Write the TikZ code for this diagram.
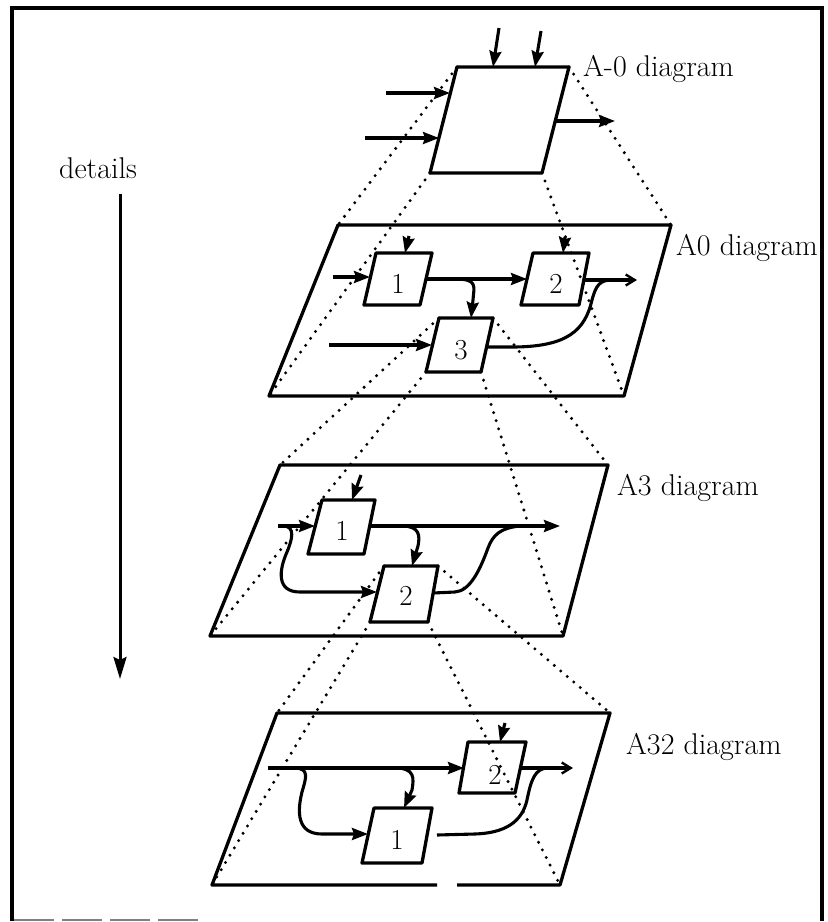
\documentclass[tikz,border=0pt]{standalone}
\usetikzlibrary{arrows.meta,calc}
\begin{document}
\begin{tikzpicture}[x=1pt,y=-1pt,
  edge/.style={line width=3.3pt, line join=round},
  proj/.style={line width=3.3pt, line cap=round, dash pattern=on 0pt off 8.5pt},
  wire/.style={line width=3.1pt},
  flow/.style={line width=3.1pt, -{Stealth[length=16pt,width=12pt,inset=2pt]}},
  openflow/.style={line width=3.1pt, -{Straight Barb[length=9pt,width=11pt,line width=2.4pt]}},
  lbl/.style={font=\fontsize{30}{36}\selectfont, anchor=base west, inner sep=0pt},
  num/.style={font=\fontsize{29}{34}\selectfont, inner sep=0pt}]
\useasboundingbox (0,0) rectangle (828,922);

% ---- corner coordinates of the four levels ----
% A-0 context box
\coordinate (T-tl) at (457,67);  \coordinate (T-tr) at (569,67);
\coordinate (T-bl) at (430,173); \coordinate (T-br) at (542,173);
% A0 sheet
\coordinate (P0-tl) at (338,225); \coordinate (P0-tr) at (671,225);
\coordinate (P0-bl) at (269,396); \coordinate (P0-br) at (624,396);
% A3 sheet
\coordinate (P3-tl) at (280,465); \coordinate (P3-tr) at (608,465);
\coordinate (P3-bl) at (210,636); \coordinate (P3-br) at (563,636);
% A32 sheet
\coordinate (P32-tl) at (277,713); \coordinate (P32-tr) at (610,713);
\coordinate (P32-bl) at (212,885); \coordinate (P32-br) at (560,885);

% activity boxes on the A0 sheet
\coordinate (b1-tl) at (376,253); \coordinate (b1-tr) at (432,253);
\coordinate (b1-bl) at (364,305); \coordinate (b1-br) at (420,305);
\coordinate (b2-tl) at (533,253); \coordinate (b2-tr) at (589,253);
\coordinate (b2-bl) at (521,305); \coordinate (b2-br) at (579,305);
\coordinate (b3-tl) at (439,318); \coordinate (b3-tr) at (493,318);
\coordinate (b3-bl) at (426,372); \coordinate (b3-br) at (481,372);
% activity boxes on the A3 sheet
\coordinate (c1-tl) at (322,500); \coordinate (c1-tr) at (375,500);
\coordinate (c1-bl) at (308,554); \coordinate (c1-br) at (364,554);
\coordinate (c2-tl) at (384,566); \coordinate (c2-tr) at (438,566);
\coordinate (c2-bl) at (370,622); \coordinate (c2-br) at (428,622);
% activity boxes on the A32 sheet
\coordinate (d2-tl) at (468,742); \coordinate (d2-tr) at (526,742);
\coordinate (d2-bl) at (459,793); \coordinate (d2-br) at (515,793);
\coordinate (d1-tl) at (374,808); \coordinate (d1-tr) at (432,808);
\coordinate (d1-bl) at (362,863); \coordinate (d1-br) at (422,863);

% ---- dotted projection lines (drawn first, beneath everything) ----
\foreach \c in {tl,tr,bl,br} {
  \draw[proj] (T-\c) -- (P0-\c);
  \draw[proj] (b3-\c) -- (P3-\c);
  \draw[proj] (c2-\c) -- (P32-\c);
}

% ---- sheets ----
\draw[edge] (T-tl) -- (T-tr) -- (T-br) -- (T-bl) -- cycle;
\draw[edge] (P0-tl) -- (P0-tr) -- (P0-br) -- (P0-bl) -- cycle;
\draw[edge] (P3-tl) -- (P3-tr) -- (P3-br) -- (P3-bl) -- cycle;
\coordinate (P32-g1) at (437,885); \coordinate (P32-g2) at (457,885);
\draw[edge] (P32-g1) -- (P32-bl) -- (P32-tl) -- (P32-tr) -- (P32-br) -- (P32-g2);

% ---- boxes and their numbers ----
\foreach \b in {b1,b2,b3,c1,c2,d1,d2}
  \draw[edge] (\b-tl) -- (\b-tr) -- (\b-br) -- (\b-bl) -- cycle;
\node[num] (n-b1) at (398,284) {1};
\node[num] (n-b2) at (556,284) {2};
\node[num] (n-b3) at (461,350) {3};
\node[num] (n-c1) at (342,531) {1};
\node[num] (n-c2) at (406,596) {2};
\node[num] (n-d2) at (495,775) {2};
\node[num] (n-d1) at (397,840) {1};

% ---- A-0 context arrows ----
\coordinate (t-c1) at (499,28);  \coordinate (t-c1e) at (493,67);
\coordinate (t-c2) at (541,31);  \coordinate (t-c2e) at (535,67);
\coordinate (t-i1) at (386,93);  \coordinate (t-i1e) at (450,93);
\coordinate (t-i2) at (365,138); \coordinate (t-i2e) at (439,138);
\coordinate (t-o)  at (556,121); \coordinate (t-oe)  at (615,121);
\draw[flow] (t-c1) -- (t-c1e);
\draw[flow] (t-c2) -- (t-c2e);
\draw[flow] (t-i1) -- (t-i1e);
\draw[flow] (t-i2) -- (t-i2e);
\draw[flow] (t-o) -- (t-oe);

% ---- A0 arrows ----
\coordinate (a-c1) at (409,236); \coordinate (a-c1e) at (405,253);
\coordinate (a-c2) at (565,237); \coordinate (a-c2e) at (563,253);
\coordinate (a-i1) at (333,277); \coordinate (a-i1e) at (370,277);
\coordinate (a-12) at (426,279); \coordinate (a-12e) at (527,279);
\coordinate (a-13) at (455,279); \coordinate (a-13e) at (471,318);
\coordinate (a-i3) at (329,345); \coordinate (a-i3e) at (432,345);
\coordinate (a-o2) at (584,280); \coordinate (a-o2e) at (637,280);
\coordinate (a-o3) at (486,347); \coordinate (a-j)   at (612,280);
\draw[flow] (a-c1) -- (a-c1e);
\draw[flow] (a-c2) -- (a-c2e);
\draw[flow] (a-i1) -- (a-i1e);
\draw[flow] (a-12) -- (a-12e);
\draw[flow] (a-13) .. controls (478,279) and (474,286) .. (473,300) -- (a-13e);
\draw[flow] (a-i3) -- (a-i3e);
\draw[openflow] (a-o2) -- (a-o2e);
\draw[wire] (a-o3) -- (512,347) .. controls (568,347) and (585,330) .. (592,300)
  .. controls (596,285) and (600,280) .. (a-j);

% ---- A3 arrows ----
\coordinate (s-c1) at (361,475); \coordinate (s-c1e) at (352,500);
\coordinate (s-i)  at (278,526); \coordinate (s-ie)  at (315,526);
\coordinate (s-ib) at (283,526); \coordinate (s-ibe) at (377,592);
\coordinate (s-o1) at (370,526); \coordinate (s-o1e) at (560,526);
\coordinate (s-12) at (402,526); \coordinate (s-12e) at (412,566);
\coordinate (s-o2) at (433,593); \coordinate (s-j)   at (520,526);
\draw[flow] (s-c1) -- (s-c1e);
\draw[flow] (s-i) -- (s-ie);
\draw[flow] (s-ib) .. controls (296,526) and (292,540) .. (287,552)
  .. controls (279,570) and (276,592) .. (300,592) -- (s-ibe);
\draw[flow] (s-o1) -- (s-o1e);
\draw[flow] (s-12) .. controls (420,526) and (420,536) .. (418,546) -- (s-12e);
\draw[wire] (s-o2) -- (455,592) .. controls (470,591) and (480,570) .. (488,548)
  .. controls (493,535) and (500,528) .. (s-j);

% ---- A32 arrows ----
\coordinate (u-c2) at (505,723); \coordinate (u-c2e) at (500,742);
\coordinate (u-i)  at (268,768); \coordinate (u-ie)  at (464,768);
\coordinate (u-b1) at (294,768); \coordinate (u-b1e) at (368,834);
\coordinate (u-b2) at (395,768); \coordinate (u-b2e) at (404,808);
\coordinate (u-o2) at (520,768); \coordinate (u-o2e) at (573,768);
\coordinate (u-o1) at (437,835); \coordinate (u-j)   at (548,768);
\draw[flow] (u-c2) -- (u-c2e);
\draw[flow] (u-i) -- (u-ie);
\draw[flow] (u-b1) .. controls (310,768) and (306,778) .. (302,792)
  .. controls (297,812) and (297,834) .. (322,834) -- (u-b1e);
\draw[flow] (u-b2) .. controls (415,768) and (414,778) .. (412,790) -- (u-b2e);
\draw[openflow] (u-o2) -- (u-o2e);
\draw[wire] (u-o1) -- (475,834) .. controls (505,833) and (522,822) .. (527,800)
  .. controls (531,780) and (535,768) .. (u-j);

% ---- labels ----
\node[lbl] (l-top) at (583,76)  {A-0 diagram};
\node[lbl] (l-a0)  at (676,255) {A0 diagram};
\node[lbl] (l-a3)  at (617,495) {A3 diagram};
\node[lbl] (l-a32) at (626,754) {A32 diagram};
\node[lbl] (l-det) at (59,178)  {details};

% "details" direction arrow
\coordinate (det-s) at (120,194); \coordinate (det-e) at (120,679);
\draw[line width=3pt, -{Stealth[length=22pt,width=13pt,inset=3pt]}] (det-s) -- (det-e);

% ---- outer frame ----
\draw[line width=3.5pt] (12,921) -- (12,8) -- (822,8) -- (822,921);
\draw[line width=1.5pt, gray, dash pattern=on 40pt off 8pt] (14,920) -- (200,920);
\end{tikzpicture}
\end{document}
